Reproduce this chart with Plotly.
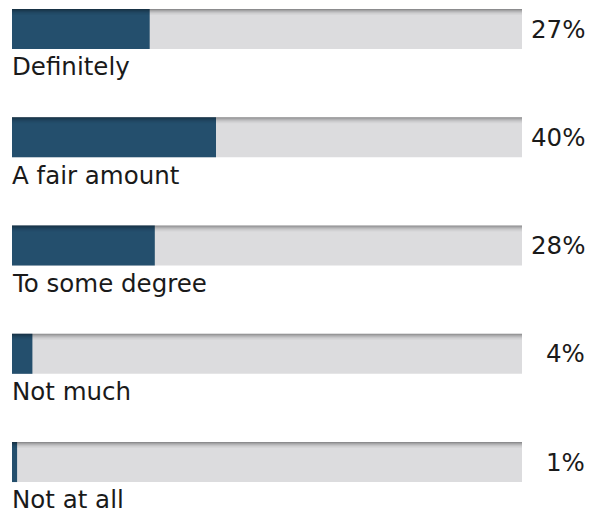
import plotly.graph_objects as go

# Survey responses and their shares (%)
categories = ["Definitely", "A fair amount", "To some degree", "Not much", "Not at all"]
shares = [27, 40, 28, 4, 1]
track_max = 100

FILL = "#244f6d"
TRACK = "#dcdcde"
TEXT = "#1a1a1a"
FONT = "DejaVu Sans"

pos = list(range(len(categories)))
bar_w = 0.37

fig = go.Figure()

# grey full-length track behind every bar
fig.add_trace(go.Bar(
    x=[track_max] * len(categories), y=pos, orientation="h",
    width=bar_w, marker=dict(color=TRACK, line=dict(width=0)),
    hoverinfo="skip", showlegend=False,
))
# filled share
fig.add_trace(go.Bar(
    x=shares, y=pos, orientation="h",
    width=bar_w, marker=dict(color=FILL, line=dict(width=0)),
    hovertemplate="%{x}%<extra></extra>", showlegend=False,
))

# soft shadow along the top edge of each bar
shade_steps = [0.36, 0.26, 0.18, 0.11, 0.06, 0.03]
step = 1 / 108.25
for p in pos:
    top = p - bar_w / 2
    for k, a in enumerate(shade_steps):
        fig.add_shape(type="rect", xref="x", yref="y",
                      x0=0, x1=track_max, y0=top + k * step, y1=top + (k + 1) * step,
                      fillcolor=f"rgba(0,0,0,{a})", line=dict(width=0), layer="above")

# category name below, percentage to the right
for p, name, v in zip(pos, categories, shares):
    fig.add_annotation(xref="paper", x=0, y=p + 0.35, yref="y", text=name,
                       showarrow=False, xanchor="left", yanchor="middle", xshift=-1,
                       borderpad=0, font=dict(family=FONT, size=24.5, color=TEXT))
    fig.add_annotation(xref="paper", x=1, y=p, yref="y", text=f"{v}%",
                       showarrow=False, xanchor="right", yanchor="middle", xshift=64,
                       borderpad=0, font=dict(family=FONT, size=24.5, color=TEXT))

fig.update_layout(
    width=590, height=514,
    margin=dict(l=12, r=68, t=0, b=0),
    paper_bgcolor="white", plot_bgcolor="white",
    barmode="overlay",
    xaxis=dict(range=[0, track_max], visible=False, fixedrange=True),
    yaxis=dict(range=[4.480, -0.268], visible=False, fixedrange=True),
)

fig.write_html("out.html")
